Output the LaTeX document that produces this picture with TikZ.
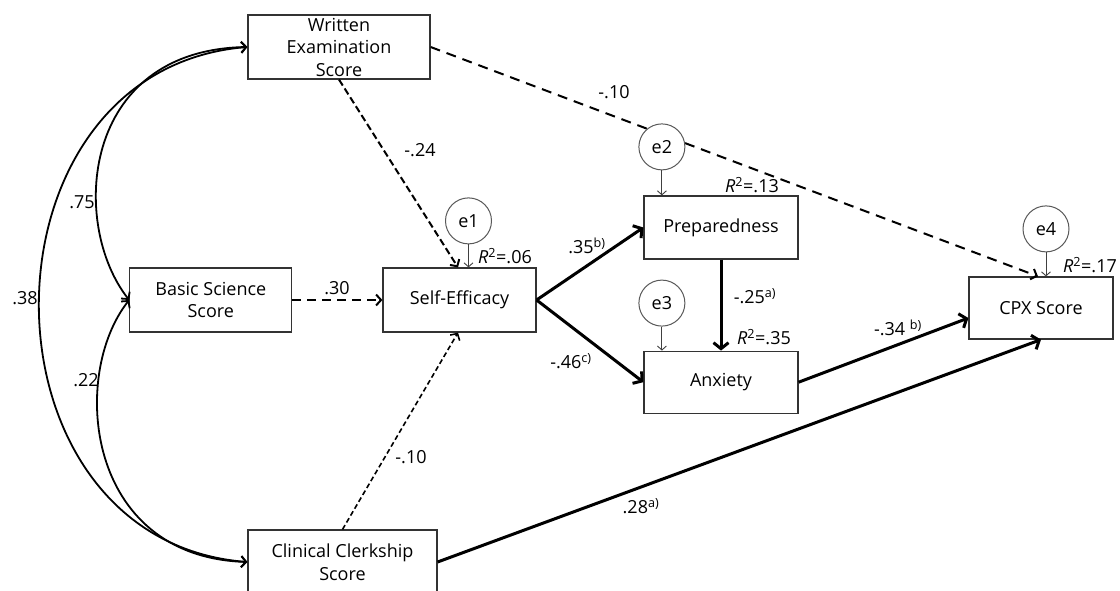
\documentclass[tikz,border=0pt]{standalone}
\usepackage{fontspec}
\setmainfont{Open Sans}
\usetikzlibrary{positioning,arrows.meta}

\begin{document}
\begin{tikzpicture}[
  x=1pt, y=1pt,
  box/.style={draw=black!80, line width=1.2pt, minimum height=64pt,
              inner sep=0pt, align=center, font=\fontsize{18}{22.5}\selectfont},
  err/.style={circle, draw=black!65, line width=1pt, fill=white,
              minimum size=46pt, inner sep=0pt, font=\fontsize{18}{22}\selectfont},
  lbl/.style={inner sep=0pt, font=\fontsize{18}{22}\selectfont},
  strong/.style={line width=3pt, -{Straight Barb[length=6pt,width=15pt]}},
  weak/.style={line width=2pt, dash pattern=on 9pt off 6pt,
               -{Straight Barb[length=5pt,width=11pt]}},
  cov/.style={line width=1.8pt,
              {Straight Barb[length=5pt,width=11pt]}-{Straight Barb[length=5pt,width=11pt]}},
  resid/.style={line width=0.9pt, draw=black!75, -{Straight Barb[length=4pt,width=9pt]}}
]
  \useasboundingbox (0,0) rectangle (1120,590);

  % Observed variables
  \node[box, minimum width=153pt] (se) at (459.5,290) {Self-Efficacy};
  \node[box, minimum width=162pt, left=90pt of se] (bs) {Basic Science\\Score};
  \node[box, minimum width=182pt] (we) at (339,543) {Written\\Examination\\Score};
  \node[box, minimum width=189pt] (cc) at (342.5,28) {Clinical Clerkship\\Score};
  \node[box, minimum width=154pt, minimum height=63pt] (pr) at (721,362.5)
    {Preparedness};
  \node[box, minimum width=154pt, minimum height=62pt, below=91pt of pr] (ax)
    {Anxiety};
  \node[box, minimum width=144pt, minimum height=62pt] (cpx) at (1041,282)
    {CPX Score};

  % Paths
  \draw[weak, dash pattern=on 10pt off 7pt] (we.east) -- ([xshift=-3pt]cpx.north);
  \draw[weak, dash pattern=on 7pt off 3.5pt] (we.south) -- ([xshift=-1.5pt]se.north);
  \draw[weak] (bs) -- (se);
  \draw[weak, line width=1.6pt, dash pattern=on 5pt off 3pt] (cc.north)
    -- ([xshift=-1.5pt]se.south);
  \draw[strong] (se.east) -- (pr.west);
  \draw[strong] (se.east) -- (ax.west);
  \draw[strong] (pr) -- (ax);
  \draw[strong] (ax.east) -- ([yshift=-10pt]cpx.west);
  \draw[strong] (cc.east) -- (cpx.south);

  % Covariances
  \draw[cov] (bs.west) .. controls (70,365) and (80,540) .. (we.west);
  \draw[cov] (we.west) .. controls (-30,520) and (-30,50) .. (cc.west);
  \draw[cov] (bs.west) .. controls (70,215) and (85,33) .. (cc.west);

  % Residuals
  \node[err, above=23pt of se, xshift=9pt] (e1) {e1};
  \node[err, above=25pt of pr.north west, xshift=18.5pt] (e2) {e2};
  \node[err, above=24pt of ax.north west, xshift=18.5pt] (e3) {e3};
  \node[err, above=24pt of cpx, xshift=5pt] (e4) {e4};
  \draw[resid] (e1) -- (e1 |- se.north);
  \draw[resid] (e2) -- (e2 |- pr.north);
  \draw[resid] (e3) -- (e3 |- ax.north);
  \draw[resid] (e4) -- (e4 |- cpx.north);

  % Coefficients
  \node[lbl] (l75) at (82,388) {.75};
  \node[lbl] (l38) at (25,292) {.38};
  \node[lbl] (l22) at (86,210) {.22};
  \node[lbl] (l24) at (420,440) {-.24};
  \node[lbl] (l30) at (337,302) {.30};
  \node[lbl] (l10a) at (411,133) {-.10};
  \node[lbl] (l10b) at (614,498) {-.10};
  \node[lbl] (l35) at (587,344) {.35\textsuperscript{b)}};
  \node[lbl] (l46) at (571,229) {-.46\textsuperscript{c)}};
  \node[lbl] (l25) at (755,294) {-.25\textsuperscript{a)}};
  \node[lbl] (l34) at (898,262) {-.34 \textsuperscript{b)}};
  \node[lbl] (l28) at (641,84) {.28\textsuperscript{a)}};

  % Explained variance
  \node[lbl] (r1) at (505,334) {\textit{R}\textsuperscript{2}=.06};
  \node[lbl] (r2) at (752,405) {\textit{R}\textsuperscript{2}=.13};
  \node[lbl] (r3) at (764,253) {\textit{R}\textsuperscript{2}=.35};
  \node[lbl] (r4) at (1090,325) {\textit{R}\textsuperscript{2}=.17};
\end{tikzpicture}
\end{document}
